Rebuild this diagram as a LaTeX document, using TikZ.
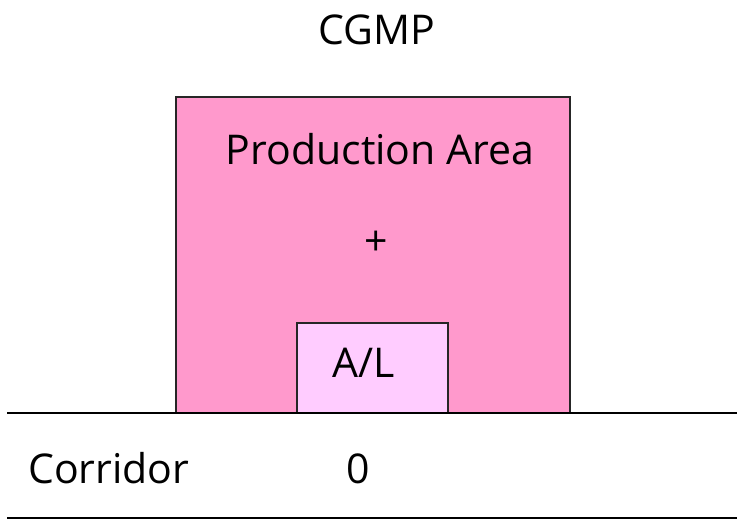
\documentclass[tikz,border=0pt]{standalone}
\usepackage{fontspec}
\setmainfont{Open Sans}
\definecolor{prodpink}{RGB}{255,153,204}
\definecolor{lockpink}{RGB}{255,204,255}
\begin{document}
\begin{tikzpicture}[x=1pt,y=-1pt,
  room/.style={draw=black!85, line width=1.6pt, fill=#1},
  wall/.style={draw=black, line width=2pt},
  lbl/.style={font=\fontsize{41}{48}\selectfont, inner sep=0pt, anchor=base}]
\useasboundingbox (0,0) rectangle (742,520);
% production area with the airlock inside
\draw[room=prodpink] (176,97) rectangle (570,413);
\draw[room=lockpink] (297,323) rectangle (448,413);
% corridor walls
\coordinate (w1a) at (7,413);
\coordinate (w1b) at (737,413);
\coordinate (w2a) at (7,518);
\coordinate (w2b) at (737,518);
\draw[wall] (w1a) -- (w1b);
\draw[wall] (w2a) -- (w2b);
% labels
\node[lbl] (title) at (377,44) {CGMP};
\node[lbl] (prod) at (380,164) {Production Area};
\node[lbl] (plus) at (376,255) {+};
\node[lbl] (al) at (364,377) {A/L};
\node[lbl, anchor=base west] (corr) at (28,483) {Corridor};
\node[lbl] (zero) at (358,483) {0};
\end{tikzpicture}
\end{document}
